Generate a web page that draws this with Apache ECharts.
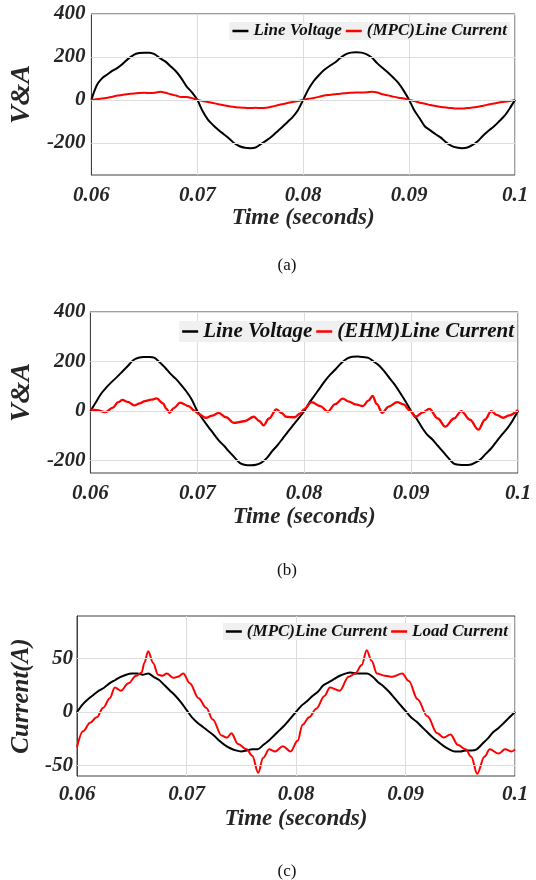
<!DOCTYPE html>
<html>

<head>
  <meta charset="UTF-8">
  <title>line voltage and current</title>
  <style>
  body {
    margin: 0;
    background: #fff;
  }

  #main {
    width: 536px;
    height: 880px;
  }
  </style>
  <script src="https://cdn.jsdelivr.net/npm/echarts@6.0.0/dist/echarts.min.js"></script>
</head>

<body>
  <div id="main"></div>
  <script type="text/javascript">
  // time samples (s)
  var tGrid = [0.06, 0.0605, 0.061, 0.0615, 0.062, 0.0625, 0.063, 0.0635, 0.064, 0.0645,
    0.065, 0.0655, 0.066, 0.0665, 0.067, 0.0675, 0.068, 0.0685, 0.069, 0.0695,
    0.07, 0.0705, 0.071, 0.0715, 0.072, 0.0725, 0.073, 0.0735, 0.074, 0.0745,
    0.075, 0.0755, 0.076, 0.0765, 0.077, 0.0775, 0.078, 0.0785, 0.079, 0.0795,
    0.08, 0.0805, 0.081, 0.0815, 0.082, 0.0825, 0.083, 0.0835, 0.084, 0.0845,
    0.085, 0.0855, 0.086, 0.0865, 0.087, 0.0875, 0.088, 0.0885, 0.089, 0.0895,
    0.09, 0.0905, 0.091, 0.0915, 0.092, 0.0925, 0.093, 0.0935, 0.094, 0.0945,
    0.095, 0.0955, 0.096, 0.0965, 0.097, 0.0975, 0.098, 0.0985, 0.099, 0.0995, 0.1];

  // (a)
  var voltA = [0, 67, 100, 118, 136, 150, 170, 192, 210, 218,
    220, 219, 212, 193, 178, 155, 132, 100, 62, 35,
    0, -52, -92, -118, -140, -160, -180, -202, -216, -223,
    -225, -222, -206, -190, -172, -150, -128, -104, -80, -48,
    0, 50, 88, 116, 140, 158, 174, 195, 212, 220,
    222, 220, 212, 196, 170, 148, 128, 104, 78, 42,
    0, -50, -86, -124, -142, -160, -176, -198, -214, -222,
    -225, -222, -210, -192, -166, -144, -124, -100, -75, -40, 0];
  var mpcA = [0, 3, 6, 10, 15, 20, 24, 27, 30, 32,
    33, 32, 33, 38, 33, 26, 20, 13, 13, 8,
    0, -5, -10, -15, -20, -25, -30, -33, -36, -37,
    -38, -37, -38, -37, -32, -26, -20, -15, -10, -5,
    0, 5, 9, 14, 20, 23, 26, 29, 31, 33,
    34, 34, 35, 38, 34, 26, 21, 15, 10, 6,
    0, -6, -13, -18, -24, -29, -33, -36, -38, -40,
    -40, -38, -36, -32, -27, -22, -17, -12, -9, -5, 0];

  // (b)
  var voltB = [0, 35, 70, 96, 118, 138, 160, 182, 205, 215,
    218, 218, 215, 196, 175, 150, 130, 105, 78, 45,
    0, -32, -62, -90, -118, -140, -165, -188, -210, -218,
    -219, -217, -208, -190, -162, -138, -110, -82, -55, -28,
    0, 35, 65, 95, 125, 150, 172, 195, 212, 219,
    220, 218, 215, 200, 184, 160, 132, 105, 72, 38,
    0, -30, -65, -95, -115, -140, -165, -190, -212, -217,
    -218, -217, -208, -195, -172, -150, -122, -95, -70, -38, 0];
  var tEhmB = [0.06, 0.0606, 0.0614, 0.0621, 0.0626, 0.063, 0.0635, 0.0641, 0.0646, 0.0651,
    0.0657, 0.0662, 0.0668, 0.0671, 0.0674, 0.0678, 0.0684, 0.0692, 0.0697, 0.0701,
    0.0708, 0.0714, 0.072, 0.0727, 0.0734, 0.0744, 0.0753, 0.0758, 0.0762, 0.0767,
    0.0774, 0.0779, 0.0783, 0.0791, 0.0796, 0.08, 0.0807, 0.0815, 0.0822, 0.0829,
    0.0836, 0.0842, 0.0848, 0.0855, 0.086, 0.0864, 0.0868, 0.0873, 0.0879, 0.0887,
    0.0893, 0.0899, 0.0904, 0.0911, 0.0917, 0.0925, 0.0932, 0.094, 0.0947, 0.0955,
    0.0963, 0.0969, 0.0975, 0.098, 0.0986, 0.0992, 0.1];
  var ehmB = [7, 4, -4, 14, 36, 45, 37, 23, 31, 40,
    46, 51, 31, 10, -7, 12, 34, 20, 3, -11,
    -27, -18, -7, -25, -48, -41, -23, -40, -58, -30,
    7, -8, -23, -25, -10, 8, 36, 20, -2, 28,
    50, 38, 27, 20, 42, 61, 28, -7, 18, 36,
    27, 2, -23, -5, 9, -30, -63, -30, 0, -35,
    -75, -35, 0, -15, -27, -17, 5];

  // (c)
  var mpcC = [0, 7, 12, 16, 20, 23, 27, 30, 33, 35,
    36, 36, 35, 36, 33, 30, 25, 20, 15, 9,
    2, -5, -10, -14, -18, -22, -27, -31, -34, -36,
    -37, -36, -35, -35, -31, -27, -22, -17, -12, -6,
    0, 6, 10, 15, 19, 25, 28, 31, 34, 36,
    37, 36, 36, 36, 33, 28, 24, 19, 13, 7,
    1, -5, -9, -14, -19, -24, -28, -32, -35, -37,
    -37, -36, -36, -35, -30, -25, -19, -15, -10, -5, 0];
  var tLoadC = [0.06, 0.06055, 0.0612, 0.0618, 0.0624, 0.063, 0.06345, 0.064, 0.0647, 0.0654,
    0.0659, 0.06615, 0.0665, 0.06695, 0.0674, 0.0678, 0.0682, 0.0688, 0.0692, 0.0697,
    0.0703, 0.0711, 0.0718, 0.0724, 0.0732, 0.0737, 0.0741, 0.0747, 0.0755, 0.076,
    0.07655, 0.077, 0.07755, 0.0781, 0.0788, 0.0795, 0.08015, 0.0806, 0.0812, 0.08185,
    0.0826, 0.0831, 0.084, 0.0848, 0.0854, 0.086, 0.08646, 0.0869, 0.0874, 0.0881,
    0.0888, 0.0897, 0.0903, 0.0911, 0.092, 0.0929, 0.0935, 0.0941, 0.0948, 0.0955,
    0.096, 0.09655, 0.0972, 0.0977, 0.0985, 0.0991, 0.0997, 0.1];
  var loadC = [-33, -18, -10, -5, 4, 13, 23, 20, 27, 34,
    37, 46, 57, 46, 35, 34, 36, 32, 33, 36,
    27, 13, 4, -7, -22, -24, -20, -30, -35, -41,
    -57, -43, -35, -37, -32, -37, -27, -12, -5, 3,
    15, 23, 20, 33, 36, 44, 58, 48, 36, 34,
    33, 36, 29, 12, -4, -20, -24, -21, -31, -35,
    -42, -58, -42, -35, -39, -35, -37, -35];

  // labelled y ticks (horizontal grid lines)
  var yTicksA = [400, 200, 0, -200];
  var yTicksB = [400, 200, 0, -200];
  var yTicksC = [50, 0, -50];

  function pairs(ts, vs) {
    return ts.map(function(t, i) {
      return [t, vs[i]];
    });
  }

  var FONT = 'Liberation Serif';
  var TXT = '#262626';
  var BORDER = '#404040';
  var GRIDC = '#dedede';
  var BLACK = '#000000';
  var RED = '#ff0000';

  function xAx(idx, margin, gap) {
    return {
      type: 'value',
      gridIndex: idx,
      min: 0.06,
      max: 0.1,
      interval: 0.01,
      name: 'Time (seconds)',
      nameLocation: 'middle',
      nameGap: gap,
      nameTextStyle: { fontFamily: FONT, fontWeight: 'bold', fontStyle: 'italic', fontSize: 23, color: TXT },
      axisLine: { lineStyle: { color: BORDER } },
      axisTick: { show: false },
      splitLine: { show: true, lineStyle: { color: GRIDC, width: 1 } },
      axisLabel: { margin: margin, fontFamily: FONT, fontWeight: 'bold', fontStyle: 'italic', fontSize: 21, color: TXT }
    };
  }

  function yAx(idx, min, max, step, ticks, name, nameSize, gap, margin) {
    return {
      type: 'value',
      gridIndex: idx,
      min: min,
      max: max,
      interval: step,
      name: name,
      nameLocation: 'middle',
      nameGap: gap,
      nameTextStyle: { fontFamily: FONT, fontWeight: 'bold', fontStyle: 'italic', fontSize: nameSize, color: TXT },
      axisLine: { show: true, lineStyle: { color: BORDER } },
      axisTick: { show: false },
      splitLine: { show: false },
      axisLabel: {
        margin: margin,
        fontFamily: FONT,
        fontWeight: 'bold',
        fontStyle: 'italic',
        fontSize: 21,
        color: TXT,
        formatter: function(v) {
          return ticks.indexOf(v) >= 0 ? String(v) : '';
        }
      }
    };
  }

  function gridLines(idx, ticks) {
    return {
      type: 'line',
      xAxisIndex: idx,
      yAxisIndex: idx,
      data: [],
      silent: true,
      markLine: {
        silent: true,
        symbol: ['none', 'none'],
        label: { show: false },
        lineStyle: { color: GRIDC, type: 'solid', width: 1 },
        data: ticks.map(function(v) { return { yAxis: v }; })
      }
    };
  }

  // monotone smoothing only for the irregularly sampled ripple curves
  function line(idx, name, data, color, width, mono) {
    var s = {
      type: 'line',
      name: name,
      xAxisIndex: idx,
      yAxisIndex: idx,
      data: data,
      showSymbol: false,
      symbol: 'none',
      smooth: mono ? 0.35 : 0.3,
      lineStyle: { color: color, width: width },
      itemStyle: { color: color }
    };
    if (mono) s.smoothMonotone = 'x';
    return s;
  }

  function legend(top, right, size, lh, items) {
    return {
      top: top,
      right: right,
      orient: 'horizontal',
      icon: 'rect',
      itemWidth: 16,
      itemHeight: 2.5,
      itemGap: 4,
      padding: [0, 3],
      backgroundColor: '#f0f0f0',
      selectedMode: false,
      textStyle: { fontFamily: FONT, fontWeight: 'bold', fontStyle: 'italic', fontSize: size, lineHeight: lh, color: '#111' },
      data: items.map(function(it) {
        return { name: it[0], itemStyle: { color: it[1] } };
      })
    };
  }

  var myChart = echarts.init(document.getElementById('main'));

  var option = {
    animation: false,
    backgroundColor: '#fff',
    grid: [
      { left: 80, top: 14, width: 435, height: 161, show: true, borderColor: BORDER, borderWidth: 1 },
      { left: 73, top: 312, width: 445, height: 161, show: true, borderColor: BORDER, borderWidth: 1 },
      { left: 77, top: 616, width: 438, height: 160, show: true, borderColor: BORDER, borderWidth: 1 }
    ],
    xAxis: [xAx(0, 10, 32), xAx(1, 10, 33), xAx(2, 8, 32)],
    yAxis: [
      yAx(0, -350, 400, 50, yTicksA, 'V&A', 28, 42, 6),
      yAx(1, -250, 400, 50, yTicksB, 'V&A', 28, 37, 5),
      yAx(2, -60, 90, 10, yTicksC, 'Current(A)', 25, 36, 4)
    ],
    legend: [
      legend(22, 26, 17, 18, [['Line Voltage', BLACK], ['(MPC)Line Current', RED]]),
      legend(321, 19, 21, 21, [['Line Voltage', BLACK], ['(EHM)Line Current', RED]]),
      legend(623, 25, 17, 16, [['(MPC)Line Current', BLACK], ['Load Current', RED]])
    ],
    graphic: [
      { type: 'text', x: 287, y: 266, style: { text: '(a)', fill: '#111', font: '17px "Liberation Serif"', align: 'center', verticalAlign: 'middle' } },
      { type: 'text', x: 287, y: 571, style: { text: '(b)', fill: '#111', font: '17px "Liberation Serif"', align: 'center', verticalAlign: 'middle' } },
      { type: 'text', x: 287, y: 872, style: { text: '(c)', fill: '#111', font: '17px "Liberation Serif"', align: 'center', verticalAlign: 'middle' } }
    ],
    series: [
      gridLines(0, yTicksA),
      gridLines(1, yTicksB),
      gridLines(2, yTicksC),
      line(0, 'Line Voltage', pairs(tGrid, voltA), BLACK, 2, false),
      line(0, '(MPC)Line Current', pairs(tGrid, mpcA), RED, 2, false),
      line(1, 'Line Voltage', pairs(tGrid, voltB), BLACK, 2, false),
      line(1, '(EHM)Line Current', pairs(tEhmB, ehmB), RED, 2.3, true),
      line(2, '(MPC)Line Current', pairs(tGrid, mpcC), BLACK, 2, false),
      line(2, 'Load Current', pairs(tLoadC, loadC), RED, 2, true)
    ]
  };

  myChart.setOption(option);
  </script>
</body>

</html>
